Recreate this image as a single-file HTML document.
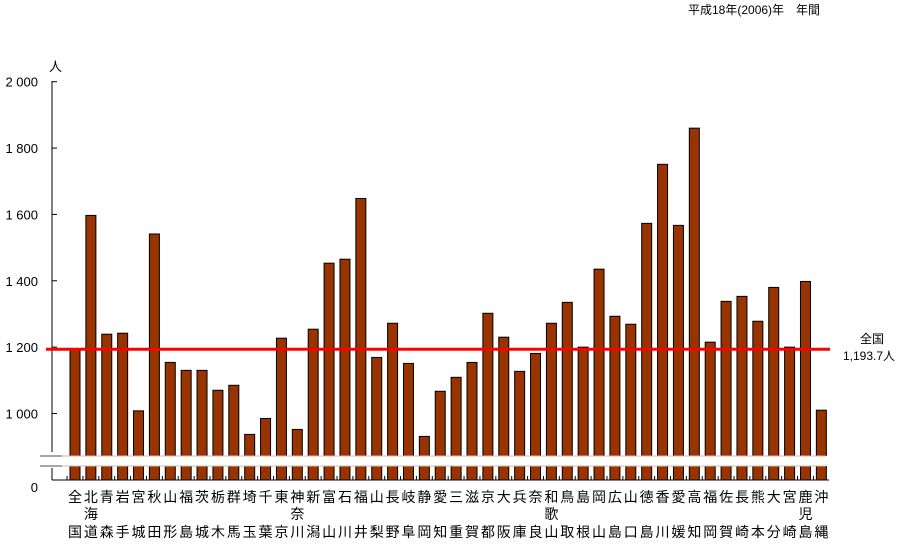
<!DOCTYPE html>
<html><head><meta charset="utf-8"><style>
body{margin:0;background:#fff;}
svg{display:block;font-family:"Liberation Sans","Noto Sans CJK JP",sans-serif;}
</style></head><body>
<svg id="chart" width="906" height="545" viewBox="0 0 906 545">
<text x="688" y="14" font-size="12">平成18年(2006)年　年間</text>
<text x="49" y="71" font-size="13">人</text>
<g id="axes"></g>
<g id="bars"></g>
<g id="labels"></g>
</svg>
<script>
const categories=["全国","北海道","青森","岩手","宮城","秋田","山形","福島","茨城","栃木","群馬","埼玉","千葉","東京","神奈川","新潟","富山","石川","福井","山梨","長野","岐阜","静岡","愛知","三重","滋賀","京都","大阪","兵庫","奈良","和歌山","鳥取","島根","岡山","広島","山口","徳島","香川","愛媛","高知","福岡","佐賀","長崎","熊本","大分","宮崎","鹿児島","沖縄"];
const values=[1193.7,1597,1239,1242,1008,1541,1154,1130,1130,1070,1085,937,985,1227,952,1254,1453,1465,1648,1169,1272,1151,931,1067,1109,1154,1302,1230,1127,1181,1272,1335,1200,1435,1293,1269,1573,1751,1567,1860,1215,1338,1353,1278,1380,1200,1398,1010];
const tickValues=[1000,1200,1400,1600,1800,2000];
const tickLabels=["1 000","1 200","1 400","1 600","1 800","2 000"];
const average=1193.7;
const NS="http://www.w3.org/2000/svg";
const x0=52,step=15.88,firstCenter=75,barW=10,baseY=480;
function y(v){return 413.5-(v-1000)*0.3318;}
function xc(i){return firstCenter+i*step;}
function mk(tag,attrs,parent){const e=document.createElementNS(NS,tag);for(const k in attrs)e.setAttribute(k,attrs[k]);parent.appendChild(e);return e;}
const axes=document.getElementById('axes'),bars=document.getElementById('bars'),labels=document.getElementById('labels');
// bars
categories.forEach((c,i)=>{
  const r=mk('rect',{x:xc(i)-barW/2,y:y(values[i]),width:barW,height:baseY-y(values[i]),fill:'#993300',stroke:'#000','stroke-width':1},bars);
  
  
  const t=document.createElementNS(NS,'text');
  t.setAttribute('font-size','14');t.setAttribute('text-anchor','middle');
  
  
  const chars=[...c];
  const rows=chars.length===3?[502,519,537]:[502,537];
  chars.forEach((ch,k)=>{const s=mk('tspan',{x:xc(i),y:rows[k]},t);s.textContent=ch;});
  labels.appendChild(t);
  const tk=mk('line',{x1:xc(i)-step/2,x2:xc(i)-step/2,y1:baseY,y2:baseY-4,stroke:'#000'},axes);
});
// break band
const band=mk('rect',{x:40,y:456,width:790,height:10,fill:'#fff'},bars);


mk('line',{x1:40,x2:826,y1:456,y2:456,stroke:'#d8b8a8','stroke-width':1},bars);
mk('line',{x1:40,x2:826,y1:466,y2:466,stroke:'#d8b8a8','stroke-width':1},bars);
mk('line',{x1:40,x2:62,y1:456,y2:456,stroke:'#888','stroke-width':1.5},bars);
mk('line',{x1:40,x2:62,y1:466,y2:466,stroke:'#888','stroke-width':1.5},bars);
// axes
const ya=mk('line',{x1:x0,x2:x0,y1:81,y2:452,stroke:'#000'},axes);

mk('line',{x1:x0,x2:x0,y1:468,y2:baseY,stroke:'#000'},axes);
const xa=mk('line',{x1:x0,x2:829,y1:baseY,y2:baseY,stroke:'#000'},axes);

tickValues.forEach((v,i)=>{
  mk('line',{x1:x0,x2:x0+5,y1:y(v),y2:y(v),stroke:'#000'},axes);
  const t=mk('text',{x:38,y:y(v)+5,'font-size':13,'text-anchor':'end'},axes);
  t.textContent=tickLabels[i];
  
  
});
const z=mk('text',{x:38,y:492,'font-size':13,'text-anchor':'end'},axes);z.textContent='0';


// average line
const al=mk('line',{x1:46,x2:830,y1:y(average),y2:y(average),stroke:'#ff0000','stroke-width':3},bars);


const l1=mk('text',{x:860,y:343,'font-size':12},labels);l1.textContent='全国';

const l2=mk('text',{x:843,y:360,'font-size':12},labels);l2.textContent='1,193.7人';

</script>
</body></html>
